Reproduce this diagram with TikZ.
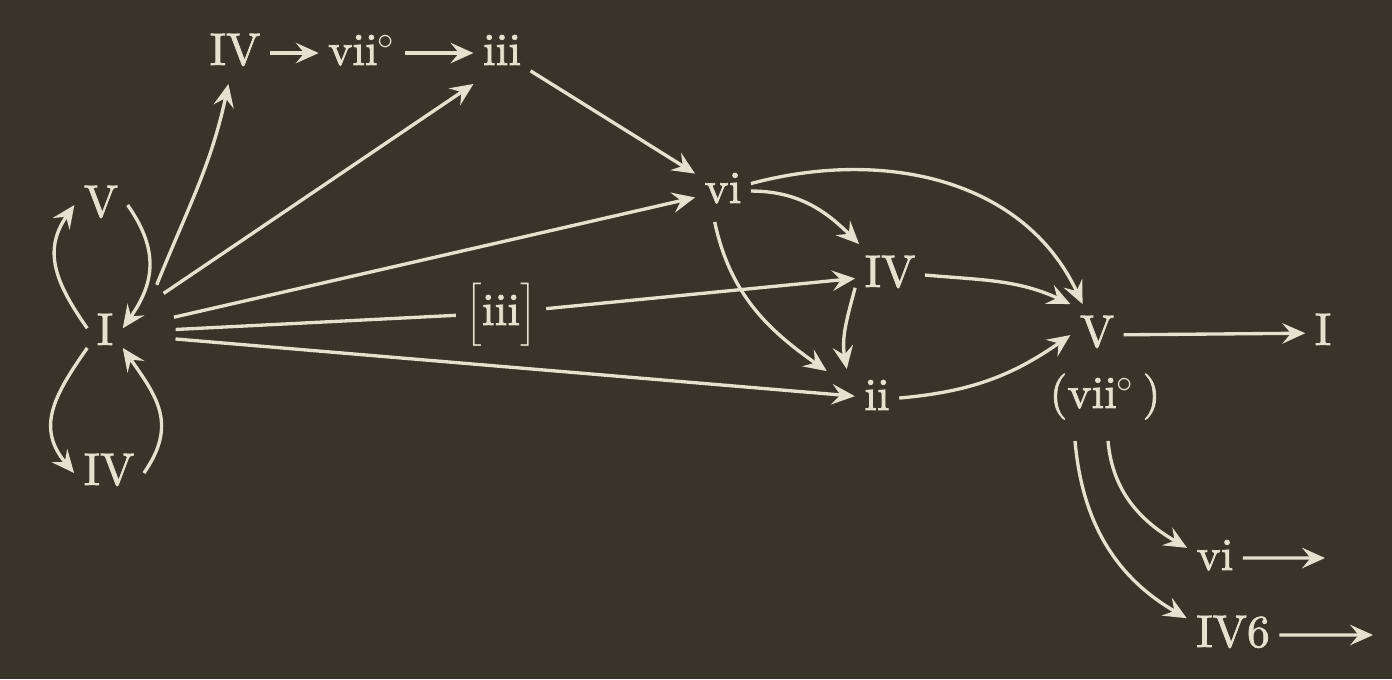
\documentclass[tikz,border=0pt]{standalone}
\usepackage{fontspec}
\usetikzlibrary{arrows.meta}

\newfontfamily\chalkfont{lmroman10-regular.otf}[FakeBold = 1.6]
\definecolor{board}{RGB}{56,52,41}
\definecolor{chalk}{RGB}{228,225,208}

\begin{document}
\begin{tikzpicture}[x = 0.01cm, y = 0.01cm,
	chord/.style = {anchor = base, text = chalk, inner sep = 2.5pt, text height = 9.5pt, text depth = 2.7pt, font = \fontsize{13}{15}\chalkfont},
	tie/.style = {chalk, line width = 0.95pt},
	link/.style = {tie, -{Stealth[length = 6.5pt, width = 5.8pt, inset = 2.4pt]}}]

	\useasboundingbox [fill = board] (0, 0) rectangle (1392, -679);

	% Chords
	
	\node [chord] (V1) at (101, -217) {V};
	\node [chord] (I1) at (105, -345) {I};
	\node [chord] (IVa) at (109, -485) {IV};
	\node [chord] (IVt) at (235, -65) {IV};
	\node [chord] (viit) at (362, -65) {vii$^\circ$};
	\node [chord] (iiit) at (502, -65) {iii};
	\node [chord] (vi) at (723, -203) {vi};
	\node [chord] (brk) at (501, -325) {$\Bigl[$iii$\Bigr]$};
	\node [chord] (IVm) at (890, -287) {IV};
	\node [chord] (ii) at (877, -410) {ii};
	\node [chord] (V2) at (1097, -347) {V};
	\node [chord] (vii2) at (1105, -408) {(vii$^\circ$\,)};
	\node [chord] (I2) at (1323, -345) {I};
	\node [chord] (vib) at (1215, -570) {vi};
	\node [chord] (IV6) at (1233, -647) {IV6};
	\coordinate (viEnd) at (1325, -558);
	\coordinate (IV6End) at (1373, -635);
	\node [circle, minimum size = 1.4cm, inner sep = 0] (hub) at (I1.center) {};

	% Loops round I
	
	\draw [link] (I1.165) to [out = 125, in = -125, looseness = 1.15] (V1.west);
	\draw [link] (V1.east) to [out = -55, in = 55, looseness = 1.15] (I1.15);
	\draw [link] (I1.220) to [out = -125, in = 130, looseness = 1.2] (IVa.west);
	\draw [link] (IVa.east) to [out = 55, in = -55, looseness = 1.2] (I1.-40);

	% Out of I
	
	\draw [link] (hub.43) to [out = 68, in = -102] (IVt);
	\draw [link] (hub) -- (iiit.south west);
	\draw [link] (hub) -- (vi);
	\draw [tie] (hub) -- (brk);
	\draw [link] (brk) -- (IVm);
	\draw [link] (hub) -- (ii);

	% Top row
	
	\draw [link] (IVt) -- (viit);
	\draw [link] (viit) -- (iiit);
	\draw [link] (iiit) -- (vi);

	% Towards V
	
	\draw [link] (vi) to [out = 15, in = 115] (V2);
	\draw [link] (vi) to [out = 0, in = 135] (IVm);
	\draw [link] (vi.-105) to [out = -78, in = 145] ([shift = {(-28, -4)}] ii.north west);
	\draw [link] (IVm.200) to [out = -105, in = 100] ([shift = {(-8, -2)}] ii.north west);
	\draw [link] (IVm.east) to [out = -5, in = 155] (V2.north west);
	\draw [link] (ii.east) to [out = 5, in = -145] (V2.west);
	\draw [link] (V2) -- (I2);

	% Below V
	
	\draw [link] ([shift = {(3, -14)}] vii2.south) to [out = -85, in = 150] (vib.160);
	\draw [link] ([shift = {(-30, -14)}] vii2.south) to [out = -85, in = 150] (IV6.160);
	\draw [link] (vib) -- (viEnd);
	\draw [link] (IV6) -- (IV6End);

\end{tikzpicture}
\end{document}
